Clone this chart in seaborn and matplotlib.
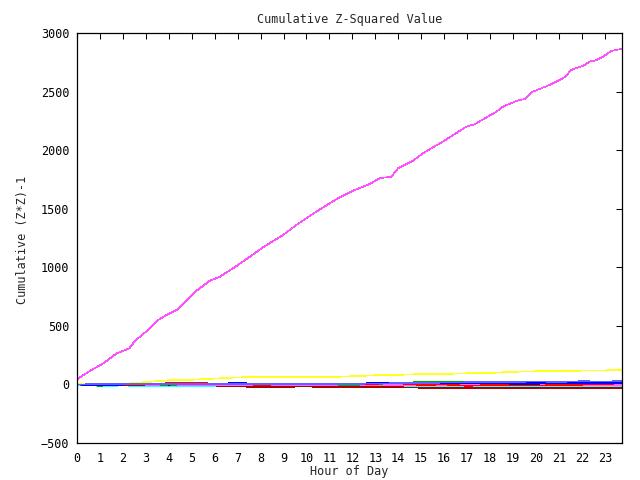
import numpy as np
import pandas as pd
import matplotlib
matplotlib.use('Agg')
import matplotlib.pyplot as plt
import seaborn as sns

sns.set_theme(style='white')
plt.rcParams['font.family'] = ['DejaVu Sans Mono', 'DejaVu Sans']

# ---- data ----
hours = [0, 1, 2, 3, 4, 5, 6, 7, 8, 9, 10, 11, 12, 13, 14, 15, 16, 17, 18, 19,
         20, 21, 22, 23, 23.75]

mag_hours = [0, 0.57, 1.15, 1.73, 2.28, 2.53, 3.18, 3.54, 3.9, 4.34, 5.21, 5.79,
             6.23, 6.95, 7.53, 8.11, 8.98, 9.56, 10.43, 11.3, 12.03, 12.76, 13.19,
             13.7, 13.99, 14.64, 15.08, 15.37, 15.95, 16.97, 17.33, 18.28, 18.57,
             19.15, 19.51, 19.8, 20.6, 21.25, 21.54, 22.05, 22.34, 22.63, 22.92,
             23.29, 23.72]
mag_values = [43, 117, 180, 265, 308, 373, 479, 550, 592, 635, 800, 885, 920, 1011,
              1090, 1171, 1276, 1361, 1475, 1581, 1654, 1711, 1760, 1774, 1845,
              1910, 1973, 2008, 2073, 2201, 2221, 2329, 2372, 2420, 2437, 2494,
              2557, 2622, 2685, 2719, 2756, 2768, 2798, 2847, 2864]

yellow = [3, 3, 5, 20, 35, 40, 50, 60, 63, 63, 63, 63, 70, 78, 82, 88, 90, 95, 98,
          108, 112, 112, 118, 120, 122]
cyan = [-2, -12, -10, -12, -15, -15, -14, -16, -16, -15, -15, -15, -14, -14, -15,
        -16, -16, -18, -17, -16, -17, -18, -20, -20, -20]
darkred = [0, -3, -5, -8, -5, -3, -10, -15, -25, -20, -18, -22, -20, -22, -24, -28,
           -28, -30, -30, -28, -30, -28, -30, -32, -32]
red = [0, 2, 3, 5, 10, 12, 8, 5, -5, 2, 5, 3, 4, 6, 10, -5, 0, -12, -5, -8, -10, -5,
       -2, 3, 10]
blue = [0, -10, -2, 0, 5, 6, 8, 10, 8, 5, 6, 4, 8, 10, 12, 12, 10, 8, 8, 10, 10, 12,
        14, 12, 12]
darkblue = [0, -5, 8, 3, -2, 2, 6, 4, 3, 2, 0, 2, 5, 8, 12, 10, 10, 10, 10, 6, 6, 10,
            8, 10, 10]
lightblue = [0, 2, 3, 3, 2, 4, 5, 6, 5, 4, 5, 6, 5, 8, 10, 12, 16, 18, 20, 22, 25,
             22, 27, 25, 28]
green = [0, -12, 2, 0, -3, 0, 2, 2, 5, 8, 5, 0, -5, 5, 10, 22, 20, 18, 15, 12, 20,
         18, 20, 15, 15]
violet = [0, -3, 0, -2, -5, -8, -6, -10, -8, -10, -5, -5, -5, -6, -4, -2, -3, -5,
          -10, -5, -5, 2, -5, -5, -5]

near_zero = [
    (yellow, '#ffff20'),
    (cyan, '#30ffff'),
    (darkred, '#b00000'),
    (violet, '#ff60ff'),
    (green, '#00b000'),
    (red, '#ff0000'),
    (darkblue, '#000090'),
    (blue, '#0000ff'),
    (lightblue, '#6060ff'),
]

fig = plt.figure(figsize=(6.4, 4.8), dpi=100)
ax = fig.add_axes([77 / 640, 37 / 480, 545 / 640, 410 / 480])

for vals, col in near_zero:
    sns.lineplot(x=hours, y=vals, color=col, lw=0.5, ax=ax, antialiased=False,
                 estimator=None, sort=False)
sns.lineplot(x=mag_hours, y=mag_values, color='#ff50ff', lw=0.5, ax=ax,
             antialiased=False, estimator=None, sort=False)

ax.set_xlim(0, 23.75)
ax.set_ylim(-500, 3000)
ax.set_xticks(range(24))
ax.set_yticks(range(-500, 3001, 500))
ax.tick_params(direction='in', length=4.3, width=0.75, top=True, right=True,
               labelsize=8.5, colors='black')
ax.tick_params(axis='y', pad=5.5)
ax.tick_params(axis='x', pad=6.5)
for s in ax.spines.values():
    s.set_color('black')
    s.set_linewidth(0.9)
ax.set_xlabel('')
ax.set_ylabel('')

fig.text(349.5 / 640, 1 - 19.5 / 480, 'Cumulative Z-Squared Value', ha='center',
         va='center', fontsize=8.5)
fig.text(23 / 640, 1 - 239.5 / 480, 'Cumulative (Z*Z)-1', ha='center', va='center',
         rotation=90, fontsize=8.5)
fig.text(349.5 / 640, 1 - 471.5 / 480, 'Hour of Day', ha='center', va='center',
         fontsize=8.5)

fig.savefig('out.png', dpi=100)
